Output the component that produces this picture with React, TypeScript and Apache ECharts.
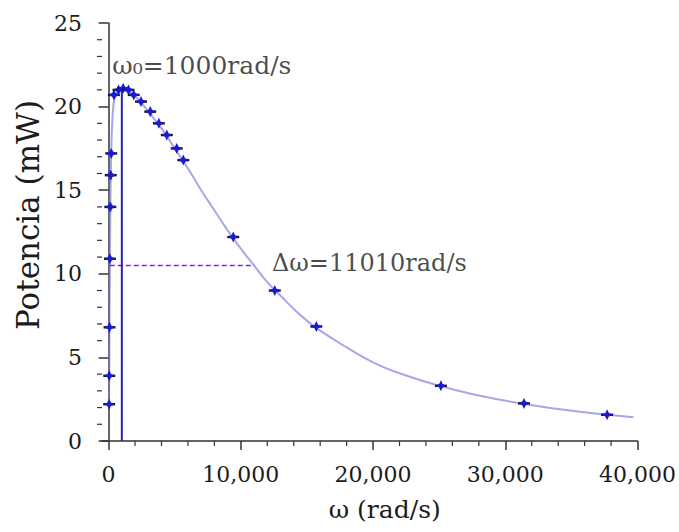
import React, { useEffect, useRef } from "react";
import * as echarts from "echarts";

// Measured points: angular frequency (rad/s), power (mW), horizontal error (rad/s)
const omega = [40, 50, 70, 100, 130, 160, 200, 400, 750, 1100, 1500, 1900, 2450, 3150, 3800, 4400, 5150, 5650, 9425, 12566, 15708, 25133, 31416, 37699];
const power = [2.2, 3.9, 6.8, 10.9, 14.0, 15.9, 17.2, 20.7, 21.0, 21.1, 21.0, 20.7, 20.3, 19.7, 19.0, 18.3, 17.5, 16.8, 12.2, 9.0, 6.85, 3.3, 2.25, 1.57];
const omegaErr = [450, 450, 450, 450, 450, 450, 450, 450, 450, 450, 450, 450, 450, 450, 450, 450, 450, 450, 450, 450, 450, 450, 450, 450];

// Fitted curve
const fitOmega = [30, 45, 65, 100, 140, 200, 300, 450, 700, 1000, 1500, 2000, 2500, 3000, 4000, 5000, 6000, 7000, 8000, 9000, 10000, 11000, 12000, 13000, 14000, 15000, 16000, 18000, 20000, 22000, 25000, 28000, 31000, 34000, 37000, 39700];
const fitPower = [2.2, 4.0, 6.9, 11.0, 14.2, 17.3, 19.4, 20.5, 20.9, 21.0, 20.9, 20.6, 20.2, 19.7, 18.7, 17.5, 16.3, 15.0, 13.8, 12.6, 11.5, 10.5, 9.5, 8.7, 7.9, 7.2, 6.6, 5.6, 4.7, 4.05, 3.3, 2.72, 2.27, 1.92, 1.63, 1.42];

// Resonance and half-power width
const omega0 = 1000;
const peakPower = 21.1;
const halfPower = 10.5;
const halfBand = [90, 11000];

const xTicks = [0, 10000, 20000, 30000, 40000];
const xMinorTicks = [2000, 4000, 6000, 8000, 12000, 14000, 16000, 18000, 22000, 24000, 26000, 28000, 32000, 34000, 36000, 38000];
const yMinorTicks = [1, 2, 3, 4, 6, 7, 8, 9, 11, 12, 13, 14, 16, 17, 18, 19, 21, 22, 23, 24];

const FONT = "DejaVu Serif";
const X_MIN = -500;
const TEXT = "#1c1c1c";

export default function App() {
  const ref = useRef<HTMLDivElement>(null);
  useEffect(() => {
    if (!ref.current) return;
    const chart = echarts.init(ref.current, null, { renderer: "svg" });
    const pts = omega.map((w, i) => [w, power[i], omegaErr[i]]);
    const fit = fitOmega.map((w, i) => [w, fitPower[i]]);
    const axisColor = "#333";
    chart.setOption({
      animation: false,
      backgroundColor: "#fff",
      textStyle: { fontFamily: FONT },
      grid: { left: 102, right: 40, top: 23, bottom: 91, containLabel: false },
      xAxis: {
        type: "value",
        min: X_MIN,
        max: 40000,
        name: "ω (rad/s)",
        nameLocation: "middle",
        nameGap: 56,
        nameTextStyle: { fontFamily: FONT, fontSize: 25, color: TEXT, padding: [0, 0, 0, 30] },
        axisLine: { show: true, lineStyle: { color: axisColor, width: 1.5 } },
        axisTick: { show: true, length: 9, customValues: xTicks, lineStyle: { color: axisColor, width: 1.5 } },
        axisLabel: {
          customValues: xTicks,
          margin: 22,
          fontFamily: FONT,
          fontSize: 22,
          color: TEXT,
          formatter: (v: number) => v.toLocaleString("en-US"),
        },
        splitLine: { show: false },
      },
      yAxis: {
        type: "value",
        min: 0,
        max: 25,
        interval: 5,
        name: "Potencia (mW)",
        nameLocation: "middle",
        nameGap: 52,
        nameTextStyle: { fontFamily: FONT, fontSize: 31, color: TEXT, padding: [0, 0, 0, 34] },
        axisLine: { show: true, lineStyle: { color: axisColor, width: 1.5 } },
        axisTick: { show: true, length: 10, lineStyle: { color: axisColor, width: 1.5 } },
        axisLabel: { margin: 20, fontFamily: FONT, fontSize: 22, color: TEXT },
        splitLine: { show: false },
      },
      series: [
        {
          type: "line",
          data: fit,
          smooth: true,
          showSymbol: false,
          lineStyle: { color: "rgba(120,120,220,0.65)", width: 2 },
          z: 1,
        },
        {
          type: "line",
          data: [[halfBand[0], halfPower], [halfBand[1], halfPower]],
          showSymbol: false,
          lineStyle: { color: "#8a1cf0", width: 1.5, type: [5, 3] },
          z: 2,
        },
        {
          type: "line",
          data: [[omega0, 0], [omega0, peakPower]],
          showSymbol: false,
          lineStyle: { color: "#2424a8", width: 2 },
          z: 3,
        },
        {
          type: "custom",
          clip: false,
          silent: true,
          data: xMinorTicks.map((v) => [v, 0]),
          renderItem: (params: any, api: any) => {
            const p = api.coord([api.value(0), 0]);
            return {
              type: "line",
              shape: { x1: p[0], y1: p[1], x2: p[0], y2: p[1] + 5 },
              style: { stroke: axisColor, lineWidth: 1.2 },
            };
          },
          z: 4,
        },
        {
          type: "custom",
          clip: false,
          silent: true,
          data: yMinorTicks.map((v) => [X_MIN, v]),
          renderItem: (params: any, api: any) => {
            const p = api.coord([X_MIN, api.value(1)]);
            return {
              type: "line",
              shape: { x1: p[0] - 5, y1: p[1], x2: p[0], y2: p[1] },
              style: { stroke: axisColor, lineWidth: 1.2 },
            };
          },
          z: 4,
        },
        {
          type: "custom",
          data: pts,
          z: 5,
          renderItem: (params: any, api: any) => {
            const x = api.value(0);
            const y = api.value(1);
            const e = api.value(2);
            const p = api.coord([x, y]);
            const l = api.coord([x - e, y]);
            const r = api.coord([x + e, y]);
            const R = 5.5;
            const q = 1.8;
            const star = [
              [p[0], p[1] - R],
              [p[0] + q, p[1] - q],
              [p[0] + R, p[1]],
              [p[0] + q, p[1] + q],
              [p[0], p[1] + R],
              [p[0] - q, p[1] + q],
              [p[0] - R, p[1]],
              [p[0] - q, p[1] - q],
            ];
            return {
              type: "group",
              children: [
                { type: "line", shape: { x1: l[0], y1: p[1], x2: r[0], y2: p[1] }, style: { stroke: "#111", lineWidth: 2.4 } },
                { type: "polygon", shape: { points: star }, style: { fill: "#1a1ad0" } },
              ],
            };
          },
        },
        {
          type: "scatter",
          symbolSize: 0,
          data: [[280, 22.45]],
          label: {
            show: true,
            position: "right",
            distance: 0,
            formatter: "ω₀=1000rad/s",
            fontFamily: FONT,
            fontSize: 25,
            color: TEXT,
          },
          z: 6,
        },
        {
          type: "scatter",
          symbolSize: 0,
          data: [[12350, 10.65]],
          label: {
            show: true,
            position: "right",
            distance: 0,
            formatter: "Δω=11010rad/s",
            fontFamily: FONT,
            fontSize: 24,
            color: TEXT,
          },
          z: 6,
        },
      ],
    });
    return () => chart.dispose();
  }, []);
  return (
    <div
      ref={ref}
      style={{ position: "fixed", left: 0, top: 0, width: 679, height: 532, background: "#fff" }}
    />
  );
}
